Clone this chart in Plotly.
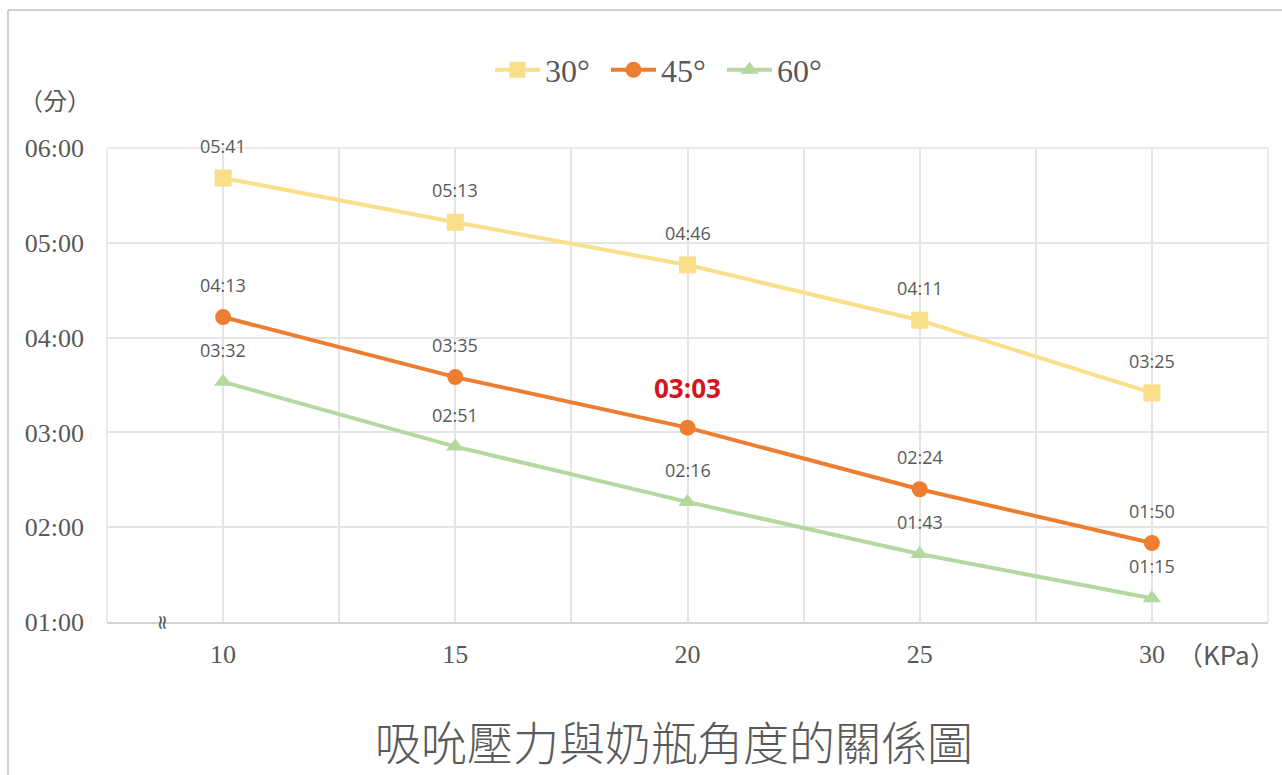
import plotly.graph_objects as go

# Suction pressure (KPa) on the x axis
pressure = [10, 15, 20, 25, 30]

# Feeding time (mm:ss) for each bottle angle
time_30 = ["05:41", "05:13", "04:46", "04:11", "03:25"]
time_45 = ["04:13", "03:35", "03:03", "02:24", "01:50"]
time_60 = ["03:32", "02:51", "02:16", "01:43", "01:15"]

series_names = ["30°", "45°", "60°"]
y_tick_vals = [1, 2, 3, 4, 5, 6]
y_tick_text = ["01:00", "02:00", "03:00", "04:00", "05:00", "06:00"]
highlight = ("45°", 2)  # the emphasised label: 45° at 20 KPa


def to_minutes(s):
    m, sec = s.split(":")
    return int(m) + int(sec) / 60.0


W, H = 1282, 775
L, R, T, B = 107, 14, 148, 153
PW, PH = W - L - R, H - T - B


def px_x(px):
    return (px - L) / PW


def px_y(py):
    return (H - B - py) / PH


styles = {
    "30°": dict(color="#F9DF8A", symbol="square", size=17),
    "45°": dict(color="#ED7D31", symbol="circle", size=16),
    "60°": dict(color="#B5D8A0", symbol="triangle-up", size=16),
}

fig = go.Figure()
annotations = []
label_font = dict(family="Open Sans, Noto Sans, sans-serif", size=18, color="#595959")

for name, times in zip(series_names, [time_30, time_45, time_60]):
    st = styles[name]
    ys = [to_minutes(t) for t in times]
    fig.add_trace(go.Scatter(
        x=pressure, y=ys, name=name, mode="lines+markers",
        line=dict(color=st["color"], width=4),
        marker=dict(color=st["color"], symbol=st["symbol"], size=st["size"]),
        hoverinfo="skip",
    ))
    for i, (xv, yv, t) in enumerate(zip(pressure, ys, times)):
        if (name, i) == highlight:
            annotations.append(dict(
                x=xv, y=yv, text=f"<b>{t}</b>", showarrow=False, yshift=40,
                font=dict(family="Open Sans, Noto Sans, sans-serif", size=26, color="#D2151E"),
            ))
        else:
            annotations.append(dict(
                x=xv, y=yv, text=t, showarrow=False, yshift=32, font=label_font,
            ))


def paper_note(px, py, text, font, **kw):
    return dict(xref="paper", yref="paper", x=px_x(px), y=px_y(py), text=text,
                xanchor="center", yanchor="middle", showarrow=False, font=font, **kw)


# axis unit labels, axis break mark and bottom title
annotations += [
    paper_note(55, 99, "（分）", dict(family="Noto Sans CJK TC", size=24, color="#595959")),
    paper_note(1226, 653, "（KPa）", dict(family="Noto Sans CJK TC", size=26, color="#595959")),
    paper_note(163, 622, "≈", dict(family="DejaVu Sans", size=20, color="#555555"), textangle=90),
    paper_note(674, 740, "吸吮壓力與奶瓶角度的關係圖",
               dict(family="Noto Sans CJK TC", size=46, color="#5a5a5a", weight=300)),
]

grid_col = "#E4E4E4"

fig.update_layout(
    width=W, height=H,
    margin=dict(l=L, r=R, t=T, b=B),
    paper_bgcolor="white", plot_bgcolor="white",
    showlegend=True,
    legend=dict(
        orientation="h", xref="paper", yref="paper",
        x=px_x(664), y=px_y(70), xanchor="center", yanchor="middle",
        font=dict(family="Liberation Serif", size=32, color="#595959"),
        itemwidth=45, entrywidth=56, tracegroupgap=0,
        bgcolor="rgba(0,0,0,0)",
    ),
    xaxis=dict(
        range=[7.5, 32.5], tickvals=pressure, ticktext=[str(p) for p in pressure],
        showgrid=True, gridcolor=grid_col, gridwidth=1.5,
        minor=dict(tick0=7.5, dtick=2.5, showgrid=True, gridcolor=grid_col, gridwidth=1.5),
        showline=True, linecolor="#D4D4D4", linewidth=2,
        ticks="", ticklabelstandoff=8, zeroline=False,
        tickfont=dict(family="Liberation Serif", size=26, color="#595959"),
        fixedrange=True,
    ),
    yaxis=dict(
        range=[1, 6], tickvals=y_tick_vals, ticktext=y_tick_text,
        showgrid=True, gridcolor=grid_col, gridwidth=1.5, zeroline=False,
        showline=False, ticks="", ticklabelstandoff=22,
        tickfont=dict(family="Liberation Serif", size=26, color="#595959"),
        fixedrange=True,
    ),
    annotations=annotations,
    shapes=[
        dict(type="line", xref="paper", yref="paper",
             x0=px_x(8), x1=px_x(8), y0=px_y(10), y1=px_y(H), line=dict(color="#D0D0D0", width=2)),
        dict(type="line", xref="paper", yref="paper",
             x0=px_x(8), x1=px_x(W), y0=px_y(10), y1=px_y(10), line=dict(color="#D0D0D0", width=2)),
        dict(type="line", xref="paper", yref="paper",
             x0=0, x1=0, y0=0, y1=1, line=dict(color=grid_col, width=1.5), layer="below"),
        dict(type="line", xref="paper", yref="paper",
             x0=1, x1=1, y0=0, y1=1, line=dict(color=grid_col, width=1.5), layer="below"),
        dict(type="line", xref="paper", yref="paper",
             x0=0, x1=1, y0=1, y1=1, line=dict(color=grid_col, width=1.5), layer="below"),
    ],
)

fig.write_html("out.html")
